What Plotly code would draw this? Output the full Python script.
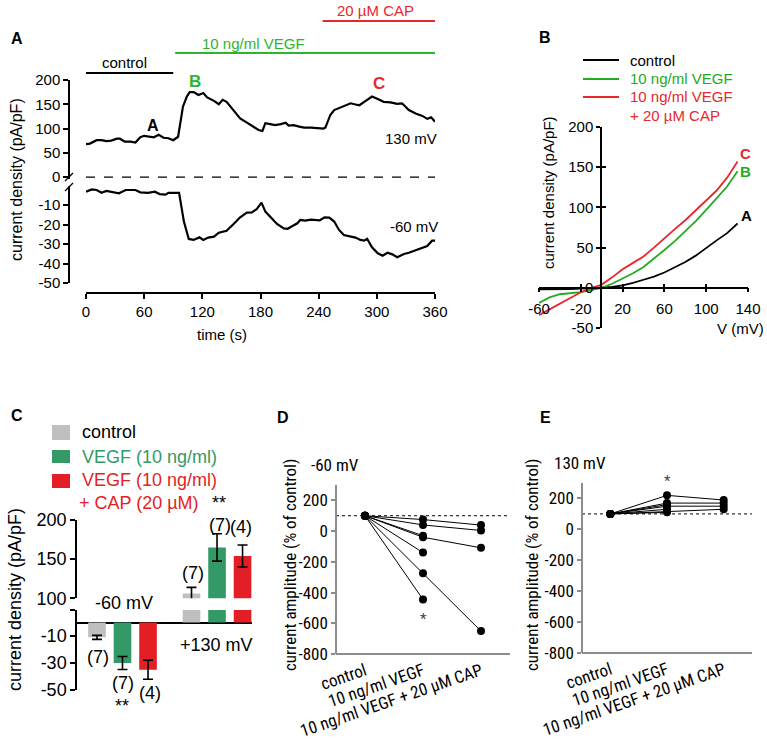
import plotly.graph_objects as go

W, H = 767, 746
def fx(px): return px / W
def fy(py): return 1 - py / H

FONT = "Arial, 'Liberation Sans', Helvetica, sans-serif"
NARROW = "'Liberation Sans Narrow', 'Arial Narrow', 'Roboto Condensed', sans-serif"

GREEN_A = "#2DB52D"
RED_A = "#E8272B"
GRAY_C = "#BFBFBF"
GREEN_C = "#339966"
RED_C = "#E31E24"

# ---------------- Panel A data ----------------
time_130 = [0,4,11,16,21,26,32,35,40,46,51,56,60,65,70,75,80,85,90,95,
            100,104,107,111,116,121,125,132,137,141,145,152,159,166,173,178,182,185,190,195,
            201,206,209,214,220,225,232,239,245,247,252,256,261,266,273,277,282,287,295,301,
            307,314,321,326,333,340,347,352,356,360]
cur_130 = [68,69,76,76,74,75,79,79,73,73,71,82,85,83,82,87,81,80,76,83,
           145,166,175,175,169,173,164,157,150,159,155,138,121,112,104,97,95,111,109,107,
           109,112,106,107,104,102,102,101,100,102,128,138,142,145,152,150,148,155,166,161,
           155,154,151,152,138,131,126,120,123,114]
time_m60 = [0,6,11,16,21,28,34,41,51,56,64,71,76,82,85,96,101,106,111,117,
            121,126,132,137,145,152,159,166,171,176,181,185,190,197,204,208,213,218,221,226,
            232,237,241,246,251,256,261,266,273,278,283,287,290,295,301,306,311,316,321,328,
            333,340,347,352,357,360]
cur_m60 = [-3.2,-2,-2.3,-3.7,-2.8,-3.3,-4,-2.3,-2.3,-3.5,-3.8,-3.2,-4.4,-4.7,-3.8,-3.8,-18.5,-27.4,-27.9,-26.6,
           -27.9,-26.7,-26.2,-24.2,-23.2,-19.9,-16.3,-13.9,-13.8,-12.2,-8.8,-13.4,-16,-19.7,-22,-22.2,-20.8,-19.4,-17.7,-18,
           -17.5,-17.9,-17.9,-16.3,-16.5,-18.5,-22.8,-25.4,-26.2,-26.7,-27.9,-28.3,-27.3,-31.7,-34.8,-36,-34.5,-35.3,-36.8,-35.1,
           -34.5,-33.1,-31.7,-31,-28.3,-28.3]
time_ticks = [0, 60, 120, 180, 240, 300, 360]
a_upper_ticks = [0, 50, 100, 150, 200]
a_lower_ticks = [-10, -20, -30, -40, -50]
period_names = ["control", "10 ng/ml VEGF", "20 µM CAP"]
period_start = [0, 92, 244]
period_end = [90, 360, 360]

# ---------------- Panel B data ----------------
V_mV = [-60,-50,-40,-30,-20,-10,0,10,20,30,40,50,60,70,80,90,100,110,120,130]
iv_control = [-2,-2,-1.5,-1.5,-1,-0.5,0,1,3,6,10,14,19,25,32,40,50,59,68,80]
iv_vegf = [-19,-12,-8,-6.5,-5.5,-3,0,5,11,18,26,36,47,58,70,83,97,111,126,145]
iv_cap = [-34,-27,-20,-13,-5.5,-0.5,4,13,23,31,39,50,62,73,84,96,109,121,137,157]
V_ticks = [-60, -20, 20, 60, 100, 140]
I_ticks = [-50, 0, 50, 100, 150, 200]

# ---------------- Panel C data ----------------
groups = ["-60 mV", "+130 mV"]
mean_ctrl = [-11, 106]
err_ctrl = [1.5, 8]
mean_vegf = [-30, 165]
err_vegf = [4.8, 17.5]
mean_cap = [-35, 154]
err_cap = [7, 14]
n_ctrl = ["(7)", "(7)"]
n_vegf = ["(7)", "(7)"]
n_cap = ["(4)", "(4)"]
c_upper_ticks = [100, 150, 200]
c_lower_ticks = [-50, -30, -10]

# ---------------- Panel D/E data ----------------
conditions = ["control", "10 ng/ml VEGF", "10 ng/ml VEGF + 20 µM CAP"]
d_ctrl = [100, 100, 100, 100, 100, 100, 100]
d_vegf = [75, 40, -30, -40, -140, -275, -445]
d_cap = [39, 4, None, -109, None, -651, None]
e_ctrl = [100, 100, 100, 100, 100, 100, 100]
e_vegf = [220, 170, 160, 150, 130, 115, 110]
e_cap = [190, 170, None, 150, None, 130, None]
pct_ticks = [-800, -600, -400, -200, 0, 200]

def lab(vals):
    return [str(v) for v in vals]  # plain hyphen-minus as in the reference

fig = go.Figure()

# Panel A traces
fig.add_trace(go.Scatter(x=[0, 360], y=[0, 0], xaxis="x", yaxis="y", mode="lines",
                         line=dict(color="black", width=1.3, dash="dash")))
fig.add_trace(go.Scatter(x=time_130, y=cur_130, xaxis="x", yaxis="y", mode="lines",
                         line=dict(color="black", width=2.2)))
fig.add_trace(go.Scatter(x=time_m60, y=cur_m60, xaxis="x", yaxis="y2", mode="lines",
                         line=dict(color="black", width=2.2)))

# Panel B traces
for ys, col in [(iv_control, "black"), (iv_vegf, "#22AA22"), (iv_cap, "#E8272B")]:
    fig.add_trace(go.Scatter(x=V_mV, y=ys, xaxis="x2", yaxis="y3", mode="lines",
                             line=dict(color=col, width=1.8)))
# invisible trace on overlay axes (inner half of the crossing ticks in panel B)
fig.add_trace(go.Scatter(x=[None], y=[None], xaxis="x6", yaxis="y8", mode="lines", hoverinfo="skip"))

# Panel C traces
for means, errs, col in [(mean_ctrl, err_ctrl, GRAY_C), (mean_vegf, err_vegf, GREEN_C), (mean_cap, err_cap, RED_C)]:
    fig.add_trace(go.Bar(x=groups, y=means, xaxis="x3", yaxis="y5", marker=dict(color=col, line=dict(width=0)),
                         error_y=dict(type="data", array=[errs[0], float("nan")], color="black", thickness=1.6, width=5)))
    fig.add_trace(go.Bar(x=groups, y=[None, means[1]], xaxis="x3", yaxis="y4", marker=dict(color=col, line=dict(width=0)),
                         error_y=dict(type="data", array=[float("nan"), errs[1]], color="black", thickness=1.6, width=5)))

# Panel D & E traces
for xa, ya, c0, c1, c2 in [("x4", "y6", d_ctrl, d_vegf, d_cap), ("x5", "y7", e_ctrl, e_vegf, e_cap)]:
    fig.add_trace(go.Scatter(x=[-0.5, 2.5], y=[100, 100], xaxis=xa, yaxis=ya, mode="lines",
                             line=dict(color="black", width=1, dash="dot")))
    for a, b, c in zip(c0, c1, c2):
        fig.add_trace(go.Scatter(x=[0, 1, 2], y=[a, b, c], xaxis=xa, yaxis=ya, mode="lines+markers",
                                 line=dict(color="black", width=1), marker=dict(color="black", size=8),
                                 cliponaxis=False))

AX = dict(showgrid=False, zeroline=False, showline=True, linecolor="black", linewidth=1.5,
          ticks="outside", ticklen=5, tickwidth=1.5, tickcolor="black", anchor="free", automargin=False,
          tickfont=dict(size=15, family=FONT, color="black"))
GAX = dict(showgrid=False, zeroline=False, showline=True, linecolor="#8c8c8c", linewidth=1.5,
           ticks="outside", ticklen=4, tickwidth=1.5, tickcolor="#8c8c8c", anchor="free", automargin=False,
           tickfont=dict(size=17, family=NARROW, color="black"))

layout = dict(
    template="none",
    width=W, height=H, margin=dict(l=0, r=0, t=0, b=0, pad=0, autoexpand=False),
    paper_bgcolor="white", plot_bgcolor="white", showlegend=False,
    font=dict(family=FONT, size=15, color="black"),
    barmode="group", bargap=0.19, bargroupgap=0.31,
    xaxis=dict(AX, domain=[fx(86), fx(435)], range=[0, 360], position=fy(293),
               tickvals=time_ticks, ticktext=lab(time_ticks)),
    yaxis=dict(AX, domain=[fy(178.5), fy(80)], range=[-3, 200], position=fx(69),
               tickvals=a_upper_ticks, ticktext=lab(a_upper_ticks)),
    yaxis2=dict(AX, domain=[fy(283), fy(186)], range=[-50, -0.26], position=fx(69),
                tickvals=a_lower_ticks, ticktext=lab(a_lower_ticks)),
    xaxis2=dict(AX, domain=[fx(539), fx(748)], range=[-60, 140], position=fy(287.7),
                tickvals=V_ticks, ticktext=lab(V_ticks), ticklabelstandoff=4, ticklen=4),
    yaxis3=dict(AX, domain=[fy(328), fy(127)], range=[-50, 200], position=fx(601),
                tickvals=I_ticks, ticktext=lab(I_ticks), ticklen=4),
    xaxis6=dict(AX, overlaying="x2", domain=[fx(539), fx(748)], range=[-60, 140], position=fy(287.7),
                tickvals=V_ticks, ticks="inside", ticklen=4, showticklabels=False, showline=False),
    yaxis8=dict(AX, overlaying="y3", domain=[fy(328), fy(127)], range=[-50, 200], position=fx(601),
                tickvals=I_ticks, ticks="inside", ticklen=4, showticklabels=False, showline=False),
    xaxis3=dict(AX, domain=[fx(75.25), fx(252)], type="category", categoryorder="array", categoryarray=groups,
                range=[-0.5, 1.37], position=fy(622.5), ticks="", showticklabels=False),
    yaxis4=dict(AX, domain=[fy(598.3), fy(520)], range=[100, 200], position=fx(76),
                tickvals=c_upper_ticks, ticktext=lab(c_upper_ticks), tickfont=dict(size=18, family=FONT)),
    yaxis5=dict(AX, domain=[fy(690), fy(610)], range=[-50, 9.26], position=fx(76),
                tickvals=c_lower_ticks + [9.26], ticktext=lab(c_lower_ticks) + [""],
                tickfont=dict(size=18, family=FONT)),
    xaxis4=dict(GAX, domain=[fx(336), fx(510)], range=[-0.5, 2.5], position=fy(654), tickvals=[0, 1, 2],
                ticktext=conditions, tickangle=-19, ticks=""),
    yaxis6=dict(GAX, domain=[fy(654), fy(485)], range=[-800, 300], position=fx(336),
                tickvals=pct_ticks, ticktext=lab(pct_ticks)),
    xaxis5=dict(GAX, domain=[fx(582), fx(752)], range=[-0.5, 2.5], position=fy(653), tickvals=[0, 1, 2],
                ticktext=conditions, tickangle=-19, ticks=""),
    yaxis7=dict(GAX, domain=[fy(653), fy(483)], range=[-800, 300], position=fx(582),
                tickvals=pct_ticks, ticktext=lab(pct_ticks)),
)

def ann(text, x, y, size=15, color="black", bold=False, xanchor="center", angle=0, family=FONT):
    return dict(text=(f"<b>{text}</b>" if bold else text), x=fx(x), y=fy(y), xref="paper", yref="paper",
                showarrow=False, font=dict(size=size, color=color, family=family),
                xanchor=xanchor, yanchor="middle", textangle=angle)

anns = []
for t, x, y in [("A", 17, 38), ("B", 545, 37), ("C", 17, 415), ("D", 283, 417), ("E", 545, 417)]:
    anns.append(ann(t, x, y, size=16, bold=True))
anns += [
    ann("current density (pA/pF)", 17, 180, size=16, angle=-90),
    ann("time (s)", 222, 334, size=15),
    ann("A", 153, 125, size=16, bold=True),
    ann("B", 195, 82, size=17, bold=True, color=GREEN_A),
    ann("C", 379, 84, size=17, bold=True, color=RED_A),
    ann("130 mV", 411, 138, size=15),
    ann("-60 mV", 414, 227, size=15),
    ann(period_names[0], 124, 63, size=15),
    ann(period_names[1], 253, 43, size=15, color=GREEN_A),
    ann(period_names[2], 375, 10, size=15, color=RED_A),
]
anns += [
    ann("current density (pA/pF)", 548, 193, size=15, angle=-90),
    ann("V (mV)", 740, 328, size=15),
    ann("A", 746, 216, size=15, bold=True),
    ann("B", 745, 172, size=15, bold=True, color="#22AA22"),
    ann("C", 745, 153, size=15, bold=True, color=RED_A),
    ann("control", 628, 60, size=15, xanchor="left"),
    ann("10 ng/ml VEGF", 628, 79, size=15, xanchor="left", color="#22AA22"),
    ann("10 ng/ml VEGF", 628, 97, size=15, xanchor="left", color=RED_A),
    ann("+ 20 µM CAP", 628, 115, size=15, xanchor="left", color=RED_A),
]
anns += [
    ann("current density (pA/pF)", 15, 600, size=18, angle=-90),
    ann("-60 mV", 124, 603, size=18),
    ann("+130 mV", 216, 645, size=18),
    ann(n_ctrl[0], 98, 657, size=18), ann(n_vegf[0], 123, 683, size=18), ann(n_cap[0], 150, 693, size=18),
    ann("**", 122, 706, size=18),
    ann(n_ctrl[1], 193, 573, size=18), ann(n_vegf[1], 220, 525, size=18), ann(n_cap[1], 241, 527, size=18),
    ann("**", 219, 503, size=18),
    ann("control", 80, 432, size=18, xanchor="left"),
    ann("VEGF (10 ng/ml)", 80, 457, size=18, xanchor="left", color=GREEN_C),
    ann("VEGF (10 ng/ml)", 80, 480, size=18, xanchor="left", color=RED_C),
    ann("+ CAP (20 µM)", 77, 503, size=18, xanchor="left", color=RED_C),
]
anns += [
    ann("current amplitude (% of control)", 290, 565, size=17, angle=-90, family=NARROW),
    ann("-60 mV", 335, 465, size=17, family=NARROW),
    ann("*", 423, 619, size=15, family=NARROW, color="#444"),
    ann("current amplitude (% of control)", 532, 565, size=17, angle=-90, family=NARROW),
    ann("130 mV", 580, 463, size=17, family=NARROW),
    ann("*", 667, 481, size=15, family=NARROW, color="#444"),
]
layout["annotations"] = anns

shapes = []
for s, e, y, col in zip(period_start, period_end, [73, 53, 21], ["black", GREEN_A, RED_A]):
    shapes.append(dict(type="line", xref="x", yref="paper", x0=s, x1=e, y0=fy(y), y1=fy(y),
                       line=dict(color=col, width=2)))
for y0 in [181, 191]:
    shapes.append(dict(type="line", xref="paper", yref="paper", x0=fx(65), x1=fx(73), y0=fy(y0), y1=fy(y0 - 8),
                       line=dict(color="black", width=1.2)))
for y, col in [(60, "black"), (79, "#22AA22"), (97, RED_A)]:
    shapes.append(dict(type="line", xref="paper", yref="paper", x0=fx(583), x1=fx(619), y0=fy(y), y1=fy(y),
                       line=dict(color=col, width=2)))
for y0, y1, col in [(425, 440, GRAY_C), (450, 463, GREEN_C), (474, 488, RED_C)]:
    shapes.append(dict(type="rect", xref="paper", yref="paper", x0=fx(52), x1=fx(70), y0=fy(y1), y1=fy(y0),
                       line=dict(width=0), fillcolor=col))
layout["shapes"] = shapes

fig.update_layout(**layout)
fig.write_html("out.html", config={"displayModeBar": False},
               post_script="document.body.style.margin='0';document.body.style.padding='0';")
